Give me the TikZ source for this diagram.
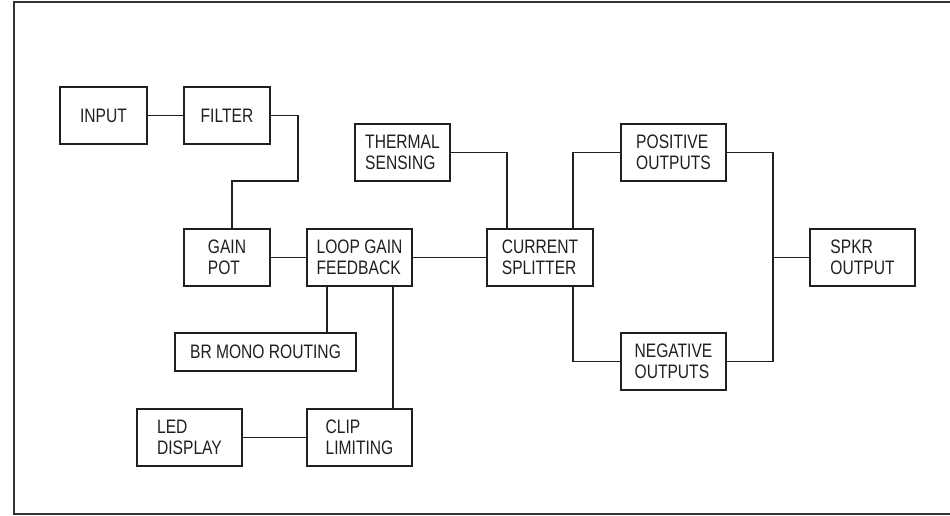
\documentclass[tikz,border=0pt]{standalone}
\usepackage{fontspec}
\setmainfont[FakeStretch=0.8]{Liberation Sans}
\tikzset{
  blk/.style={draw, line width=1.8pt, inner sep=0pt, minimum width=105pt, minimum height=57pt,
    align=left, font=\fontsize{19.5}{21.5}\selectfont},
  wire/.style={line width=1.8pt}
}
\begin{document}
\begin{tikzpicture}[x=1pt, y=-1pt, color={black!88}]
\useasboundingbox (0,0) rectangle (950,515);
\draw[line width=2pt, black!80] (13.5,1.5) rectangle (962,513.5);
% blocks
\node[blk, minimum width=87pt] (input) at (103.5,115.5) {INPUT};
\node[blk, minimum width=86pt] (filter) at (227,115.5) {FILTER};
\node[blk, minimum width=86pt] (gain) at (227,257.5) {GAIN\\POT};
\node[blk] (loop) at (359.5,257.5) {LOOP GAIN\\FEEDBACK};
\node[blk, minimum width=95pt] (thermal) at (402.5,152.5) {THERMAL\\SENSING};
\node[blk, minimum width=106pt] (current) at (540,257.5) {CURRENT\\SPLITTER};
\node[blk] (pos) at (673.5,152.5) {POSITIVE\\OUTPUTS};
\node[blk] (neg) at (673.5,361.5) {NEGATIVE\\OUTPUTS};
\node[blk] (spkr) at (862.5,257.5) {SPKR\\OUTPUT};
\node[blk, minimum width=181pt, minimum height=38pt] (mono) at (265.5,352) {BR MONO ROUTING};
\node[blk] (led) at (189.5,437.5) {LED\\DISPLAY};
\node[blk] (clip) at (359.5,437.5) {CLIP\\LIMITING};
\coordinate (fbend) at (298,181);
\coordinate (jct) at (773,257.5);
% connectors
\draw[wire] (input) -- (filter);
\draw[wire] (filter.east) -| (fbend) -| ([xshift=5pt]gain.north);
\draw[wire] (gain) -- (loop);
\draw[wire] (loop) -- (current);
\draw[wire] (thermal.east) -| ([xshift=-33pt]current.north);
\draw[wire] (pos.west) -| ([xshift=33pt]current.north);
\draw[wire] ([xshift=33pt]current.south) |- (neg.west);
\draw[wire] (pos.east) -| (jct) -- (spkr.west);
\draw[wire] (neg.east) -| (jct);
\draw[wire] ([xshift=-32.5pt]loop.south) -- ([xshift=-32.5pt]loop.south |- mono.north);
\draw[wire] ([xshift=33.5pt]loop.south) -- ([xshift=33.5pt]loop.south |- clip.north);
\draw[wire] (led) -- (clip);
\end{tikzpicture}
\end{document}
